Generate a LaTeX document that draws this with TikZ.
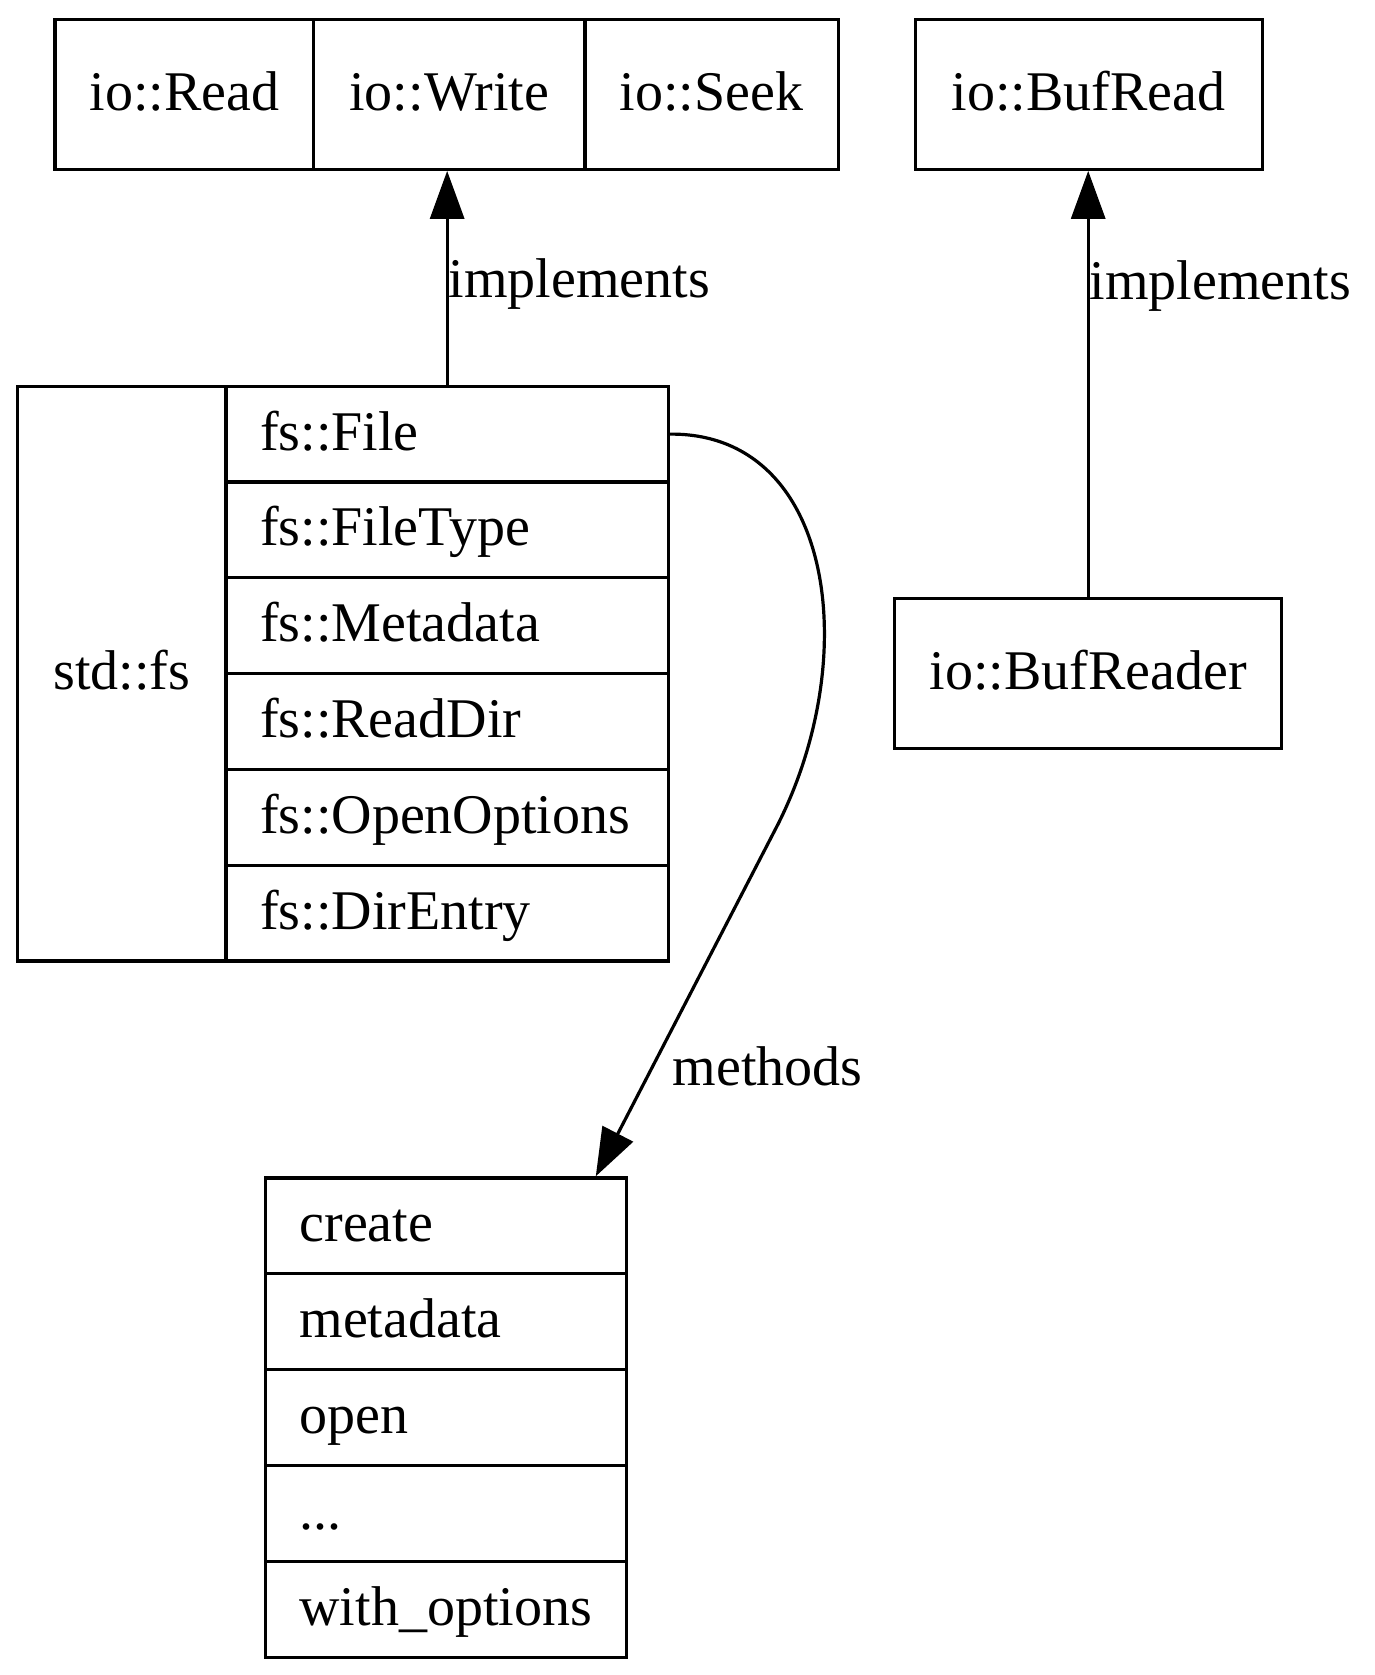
\documentclass[tikz,border=0pt]{standalone}
\usepackage{fontspec}
\setmainfont{Liberation Serif}
\usetikzlibrary{arrows.meta,calc}
\begin{document}
\begin{tikzpicture}[x=0.5pt,y=-0.5pt,line width=1.6pt,>={Triangle[length=24pt,width=17pt]},
	font=\fontsize{28}{34}\selectfont,
	cell/.style={draw,anchor=north west,inner sep=0pt,text height=22pt,text depth=6pt,minimum height=#1},
	cell/.default=74.75pt,
	row/.style={draw,anchor=north west,inner ysep=0pt,inner xsep=17pt,align=left,text width=#1,text height=22pt,text depth=6pt,minimum height=47.9pt},
	lbl/.style={anchor=west,inner sep=0pt}]
	\useasboundingbox (0,0) rectangle (1375,1675);
	% traits
	\node[cell,minimum width=129.3pt] (read) at (53.4,18.2) {io::Read};
	\node[cell,minimum width=135.65pt] (write) at (312,18.2) {io::Write};
	\node[cell,minimum width=126.65pt] (seek) at (583.3,18.2) {io::Seek};
	\node[cell,minimum width=173.6pt] (bufread) at (913.5,18.2) {io::BufRead};
	\node[cell,minimum width=193.4pt] (bufreader) at (893.2,597.2) {io::BufReader};
	% std::fs
	\node[cell=287.4pt,minimum width=104.2pt] (stdfs) at (16,384.6) {std::fs};
	\foreach \n/\t [count=\i from 0] in {file/File,filetype/FileType,metadata/Metadata,readdir/ReadDir,openoptions/OpenOptions,direntry/DirEntry}
		\node[row=187.15pt] (\n) at (224.4,384.6+\i*95.8) {fs::\t};
	% methods
	\foreach \n/\t [count=\i from 0] in {create/create,meta/metadata,open/open,dots/{...},withopt/with\_options}
		\node[row=146.55pt] (\n) at (263.9,1176.3+\i*95.94) {\t};
	\draw[->] (file.north) -- (file.north |- write.south) node[lbl,pos=0.47]{implements};
	\draw[->] (bufreader.north) -- (bufreader.north |- bufread.south) node[lbl,pos=0.73]{implements};
	\coordinate (m) at ($(create.north west)!0.911!(create.north east)$);
	\draw[->] (file.east) .. controls (835,432.7) and (864,660) .. (775,830) -- (m);
	\node[lbl] (methods) at (671,1066) {methods};
\end{tikzpicture}
\end{document}
